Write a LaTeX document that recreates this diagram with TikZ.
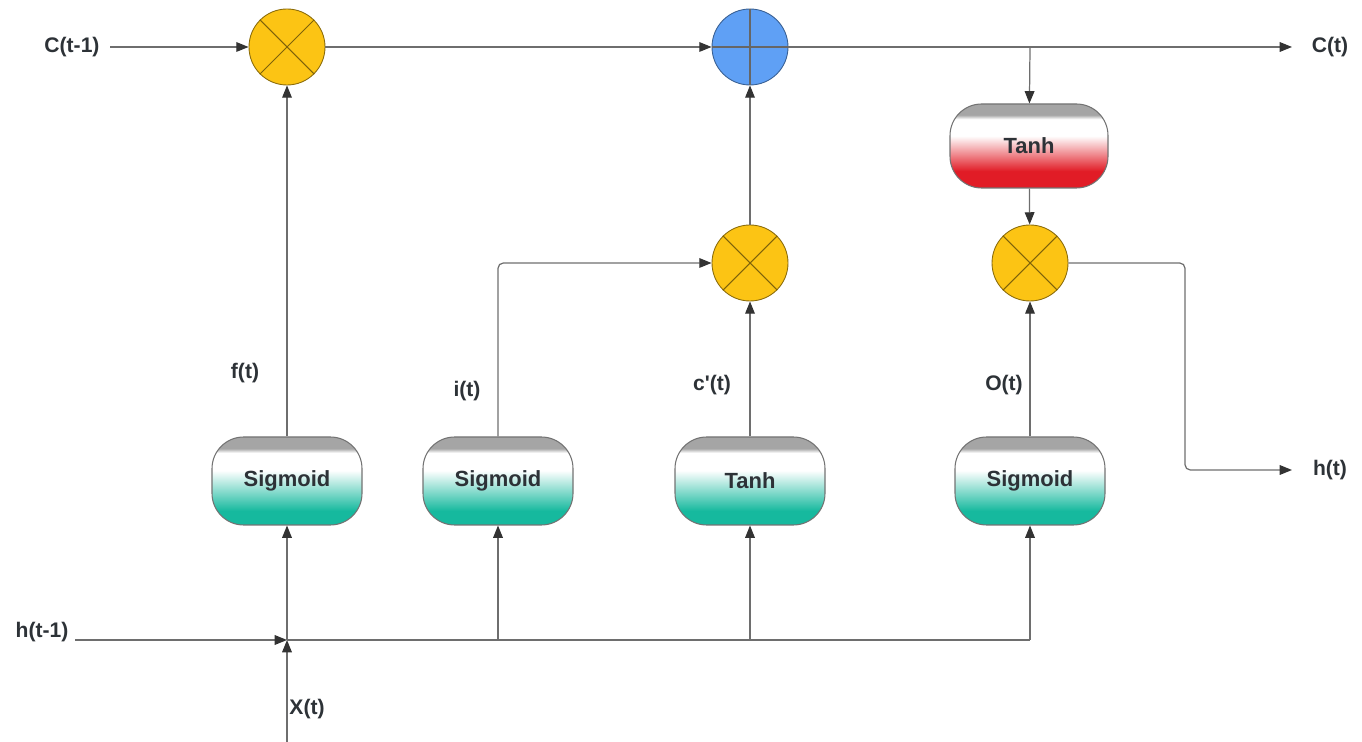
\documentclass[tikz,border=0pt]{standalone}
\usepackage{fontspec}
\setmainfont{Liberation Sans}[Ligatures=TeXOff]
\usetikzlibrary{arrows.meta}
\definecolor{lnc}{RGB}{110,110,110}
\definecolor{yel}{RGB}{252,196,20}
\definecolor{blu}{RGB}{95,160,245}
\definecolor{tea}{RGB}{22,185,158}
\definecolor{rdd}{RGB}{225,28,38}
\definecolor{txc}{RGB}{45,50,55}
\definecolor{bnd}{RGB}{165,165,165}
% path occupies 25bp..75bp of the shading
\pgfdeclareverticalshading{sigshade}{100bp}{color(0bp)=(tea); color(33bp)=(tea); color(56bp)=(white); color(66bp)=(white); color(68.5bp)=(bnd); color(100bp)=(bnd)}
\pgfdeclareverticalshading{redshade}{100bp}{color(0bp)=(rdd); color(35bp)=(rdd); color(56bp)=(white); color(66bp)=(white); color(68.5bp)=(bnd); color(100bp)=(bnd)}
\tikzset{
  conn/.style={draw=lnc, line width=0.7pt},
  arr/.style={conn, -{Triangle[length=7pt,width=5.5pt]}, arrows={[color=black!80]}},
  mult/.style={circle, draw=black!45!yel, fill=yel, minimum size=76*0.02cm, inner sep=0pt, line width=0.5pt},
  addn/.style={circle, draw=black!40!blu, fill=blu, minimum size=76*0.02cm, inner sep=0pt, line width=0.5pt},
  gate/.style={rectangle, rounded corners=18pt, draw=black!55, line width=0.6pt, shading=sigshade, minimum width=150*0.02cm, minimum height=88*0.02cm, font=\fontsize{12.5}{14}\selectfont\bfseries, text=txc},
  redgate/.style={gate, shading=redshade, minimum width=158*0.02cm, minimum height=84*0.02cm},
  lbl/.style={font=\fontsize{12}{14}\selectfont\bfseries, text=txc, inner sep=0pt}
}
\begin{document}
\begin{tikzpicture}[x=0.02cm, y=-0.02cm]
\useasboundingbox (0,0) rectangle (1362,742);
% operators
\node[mult] (m1) at (287,47) {};
\node[addn] (a1) at (750,47) {};
\node[mult] (m2) at (750,263) {};
\node[mult] (m3) at (1030,263) {};
\foreach \n in {m1,m2,m3}{
  \draw[draw=black!50!yel, line width=0.6pt] (\n.north west) -- (\n.south east) (\n.north east) -- (\n.south west);
}
\draw[draw=black!60, line width=0.6pt] (a1.north) -- (a1.south) (a1.west) -- (a1.east);
% gates
\node[gate] (g1) at (287,481) {Sigmoid};
\node[gate] (g2) at (498,481) {Sigmoid};
\node[gate] (g3) at (750,481) {Tanh};
\node[gate] (g4) at (1030,481) {Sigmoid};
\node[redgate] (g5) at (1029,146) {Tanh};
% labels
\node[lbl] (lc0) at (72,47) {C(t-1)};
\node[lbl] (lc1) at (1330,47) {C(t)};
\node[lbl] (lh1) at (1330,470) {h(t)};
\node[lbl] (lh0) at (42,632) {h(t-1)};
\node[lbl] (lx) at (307,709) {X(t)};
\node[lbl] (lf) at (245,373) {f(t)};
\node[lbl] (li) at (467,391) {i(t)};
\node[lbl] (lcp) at (712,385) {c'(t)};
\node[lbl] (lo) at (1004,385) {O(t)};
% coordinates
\coordinate (cs) at (110,47);
\coordinate (ce) at (1292,47);
\coordinate (cb) at (1030,47);
\coordinate (hs) at (75,640);
\coordinate (j) at (287,640);
\coordinate (xs) at (287,742);
\coordinate (b2) at (498,640);
\coordinate (b3) at (750,640);
\coordinate (b4) at (1030,640);
\coordinate (o1) at (1185,263);
\coordinate (o2) at (1185,470);
\coordinate (he) at (1292,470);
% cell state
\draw[arr] (cs) -- (m1);
\draw[arr] (m1) -- (a1);
\draw[arr] (a1) -- (ce);
\draw[arr] (cb) -- (g5);
\draw[arr] (g5) -- (m3);
% inputs
\draw[arr] (hs) -- (j);
\draw[arr] (xs) -- (j);
\draw[arr] (j) -- (g1);
\draw[conn] (j) -- (b4);
\draw[arr] (b2) -- (g2);
\draw[arr] (b3) -- (g3);
\draw[arr] (b4) -- (g4);
% gate outputs
\draw[arr] (g1) -- (m1);
\draw[arr, rounded corners=3pt] (g2) |- (m2);
\draw[arr] (g3) -- (m2);
\draw[arr] (m2) -- (a1);
\draw[arr] (g4) -- (m3);
\draw[arr, rounded corners=3pt] (m3) -- (o1) -- (o2) -- (he);
\end{tikzpicture}
\end{document}
